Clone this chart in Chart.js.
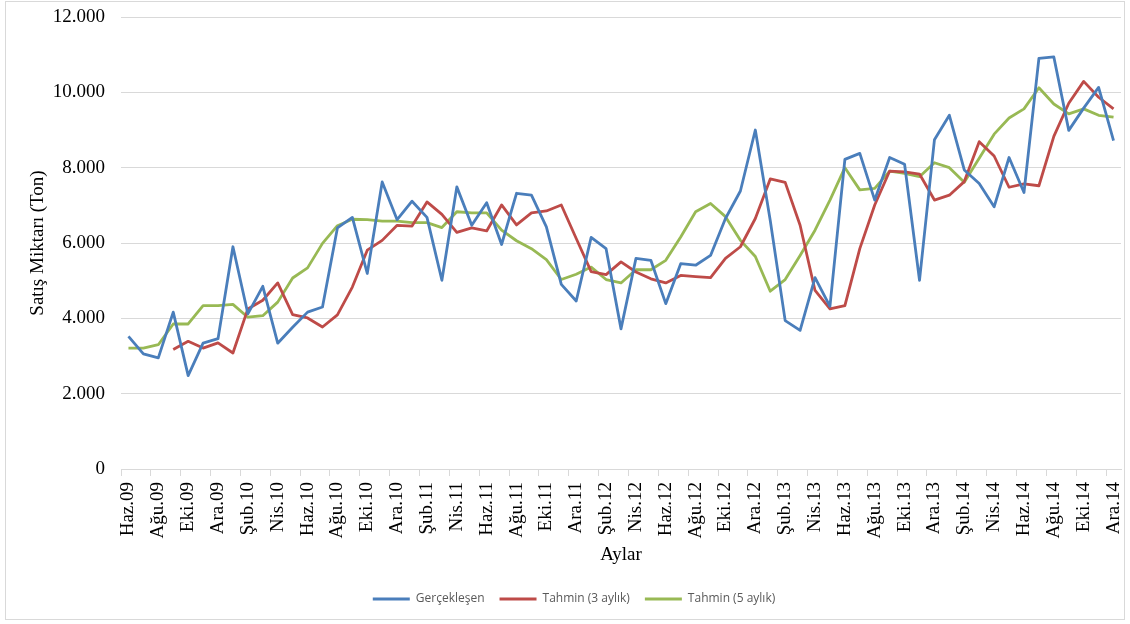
<!DOCTYPE html>
<html>
<head>
<meta charset="utf-8">
<script src="https://cdn.jsdelivr.net/npm/chart.js@4.4.1/dist/chart.umd.min.js"></script>
<style>
  html, body { margin: 0; padding: 0; background: #fff; }
  #chart { display: block; }
</style>
</head>
<body>
<canvas id="chart" width="1130" height="624"></canvas>
<script>
// months, Haz.09 .. Ara.14
const months = [
  'Haz.09','Tem.09','Ağu.09','Eyl.09','Eki.09','Kas.09','Ara.09',
  'Oca.10','Şub.10','Mar.10','Nis.10','May.10','Haz.10','Tem.10','Ağu.10','Eyl.10','Eki.10','Kas.10','Ara.10',
  'Oca.11','Şub.11','Mar.11','Nis.11','May.11','Haz.11','Tem.11','Ağu.11','Eyl.11','Eki.11','Kas.11','Ara.11',
  'Oca.12','Şub.12','Mar.12','Nis.12','May.12','Haz.12','Tem.12','Ağu.12','Eyl.12','Eki.12','Kas.12','Ara.12',
  'Oca.13','Şub.13','Mar.13','Nis.13','May.13','Haz.13','Tem.13','Ağu.13','Eyl.13','Eki.13','Kas.13','Ara.13',
  'Oca.14','Şub.14','Mar.14','Nis.14','May.14','Haz.14','Tem.14','Ağu.14','Eyl.14','Eki.14','Kas.14','Ara.14'
];

const gerceklesen = [
  3520, 3055, 2950, 4165, 2480, 3340, 3460, 5900, 4120, 4850,
  3340, 3765, 4165, 4300, 6400, 6680, 5190, 7620, 6620, 7110,
  6680, 5010, 7490, 6470, 7070, 5960, 7320, 7270, 6430, 4900,
  4460, 6150, 5850, 3720, 5590, 5540, 4390, 5450, 5410, 5670,
  6650, 7380, 9000, 6600, 3940, 3680, 5080, 4320, 8220, 8380,
  7140, 8270, 8090, 5010, 8740, 9390, 7940, 7580, 6960, 8270,
  7340, 10900, 10940, 8990, 9580, 10130, 8720
];

const tahmin3 = [
  null, null, null, 3170, 3390, 3210, 3350, 3080, 4250, 4480,
  4940, 4100, 4010, 3770, 4090, 4830, 5810, 6070, 6470, 6450,
  7090, 6760, 6280, 6400, 6320, 7010, 6480, 6800, 6850, 7010,
  6120, 5240, 5160, 5500, 5230, 5050, 4940, 5140, 5110, 5080,
  5590, 5900, 6650, 7700, 7610, 6470, 4740, 4250, 4340, 5850,
  7010, 7910, 7890, 7830, 7140, 7270, 7630, 8690, 8310, 7480,
  7570, 7520, 8830, 9710, 10290, 9870, 9560
];

const tahmin5 = [
  3210, 3210, 3300, 3850, 3850, 4340, 4340, 4370, 4030, 4070,
  4430, 5070, 5340, 5990, 6460, 6630, 6620, 6580, 6580, 6540,
  6540, 6410, 6830, 6800, 6800, 6340, 6060, 5850, 5560, 5030,
  5170, 5360, 5030, 4940, 5290, 5290, 5540, 6160, 6830, 7050,
  6700, 6070, 5640, 4720, 5030, 5670, 6340, 7140, 8000, 7410,
  7450, 7910, 7850, 7760, 8130, 8000, 7610, 8250, 8890, 9320,
  9560, 10120, 9690, 9430, 9560, 9390, 9340
];

const seriesNames = ['Gerçekleşen', 'Tahmin (3 aylık)', 'Tahmin (5 aylık)'];
const seriesColors = ['#4a7ebb', '#be4b48', '#98b954'];

const serif = '"Liberation Serif", "Times New Roman", serif';
const gridGrey = '#d9d9d9';

function fmt(v) {
  return String(v).replace(/\B(?=(\d{3})+(?!\d))/g, '.');
}

// light frame around the whole chart
const frame = {
  id: 'frame',
  afterDraw(chart) {
    const c = chart.ctx;
    c.save();
    c.strokeStyle = gridGrey;
    c.lineWidth = 1;
    c.strokeRect(5.5, 1.5, 1119, 618);
    c.restore();
  }
};

function line(i, data) {
  return {
    label: seriesNames[i],
    data: data,
    borderColor: seriesColors[i],
    backgroundColor: seriesColors[i],
    borderWidth: 2.8,
    borderJoinStyle: 'round',
    pointRadius: 0,
    pointHoverRadius: 0,
    tension: 0,
    fill: false
  };
}

new Chart(document.getElementById('chart'), {
  type: 'line',
  data: {
    labels: months,
    datasets: [line(0, gerceklesen), line(1, tahmin3), line(2, tahmin5)]
  },
  options: {
    responsive: false,
    animation: false,
    devicePixelRatio: 1,
    layout: { padding: { top: 17, left: 27, right: 9, bottom: 9 } },
    plugins: {
      tooltip: { enabled: false },
      legend: {
        position: 'bottom',
        labels: {
          usePointStyle: true,
          pointStyle: 'line',
          pointStyleWidth: 37,
          padding: 15,
          color: '#595959',
          font: { family: '"Open Sans", sans-serif', size: 12 }
        }
      }
    },
    scales: {
      x: {
        type: 'category',
        offset: true,
        afterFit(s) { s.height = 109; s.paddingLeft = 0; s.paddingRight = 0; },
        border: { display: true, color: gridGrey, width: 1 },
        grid: {
          offset: true,
          drawOnChartArea: false,
          drawTicks: true,
          tickLength: 7,
          color: ctx => ctx.index % 2 === 0 ? gridGrey : 'rgba(0,0,0,0)',
          tickColor: ctx => ctx.index % 2 === 0 ? gridGrey : 'rgba(0,0,0,0)'
        },
        ticks: {
          autoSkip: false,
          minRotation: 90,
          maxRotation: 90,
          padding: 6,
          color: '#000',
          font: { family: serif, size: 19 },
          callback(v, i) { return i % 2 === 0 ? months[i] : ''; }
        },
        title: {
          display: true,
          text: 'Aylar',
          color: '#000',
          font: { family: serif, size: 19 },
          padding: { top: 0, bottom: 12 }
        }
      },
      y: {
        min: 0,
        max: 12000,
        afterFit(s) { s.width = 94; s.paddingTop = 0; s.paddingBottom = 0; },
        border: { display: false },
        grid: { color: gridGrey, lineWidth: 1, drawTicks: false },
        ticks: {
          stepSize: 2000,
          padding: 16,
          color: '#000',
          font: { family: serif, size: 19 },
          callback: v => fmt(v)
        },
        title: {
          display: true,
          text: 'Satış Miktarı (Ton)',
          color: '#000',
          font: { family: serif, size: 19 },
          padding: { top: 0, bottom: 0 }
        }
      }
    }
  },
  plugins: [frame]
});
</script>
</body>
</html>
